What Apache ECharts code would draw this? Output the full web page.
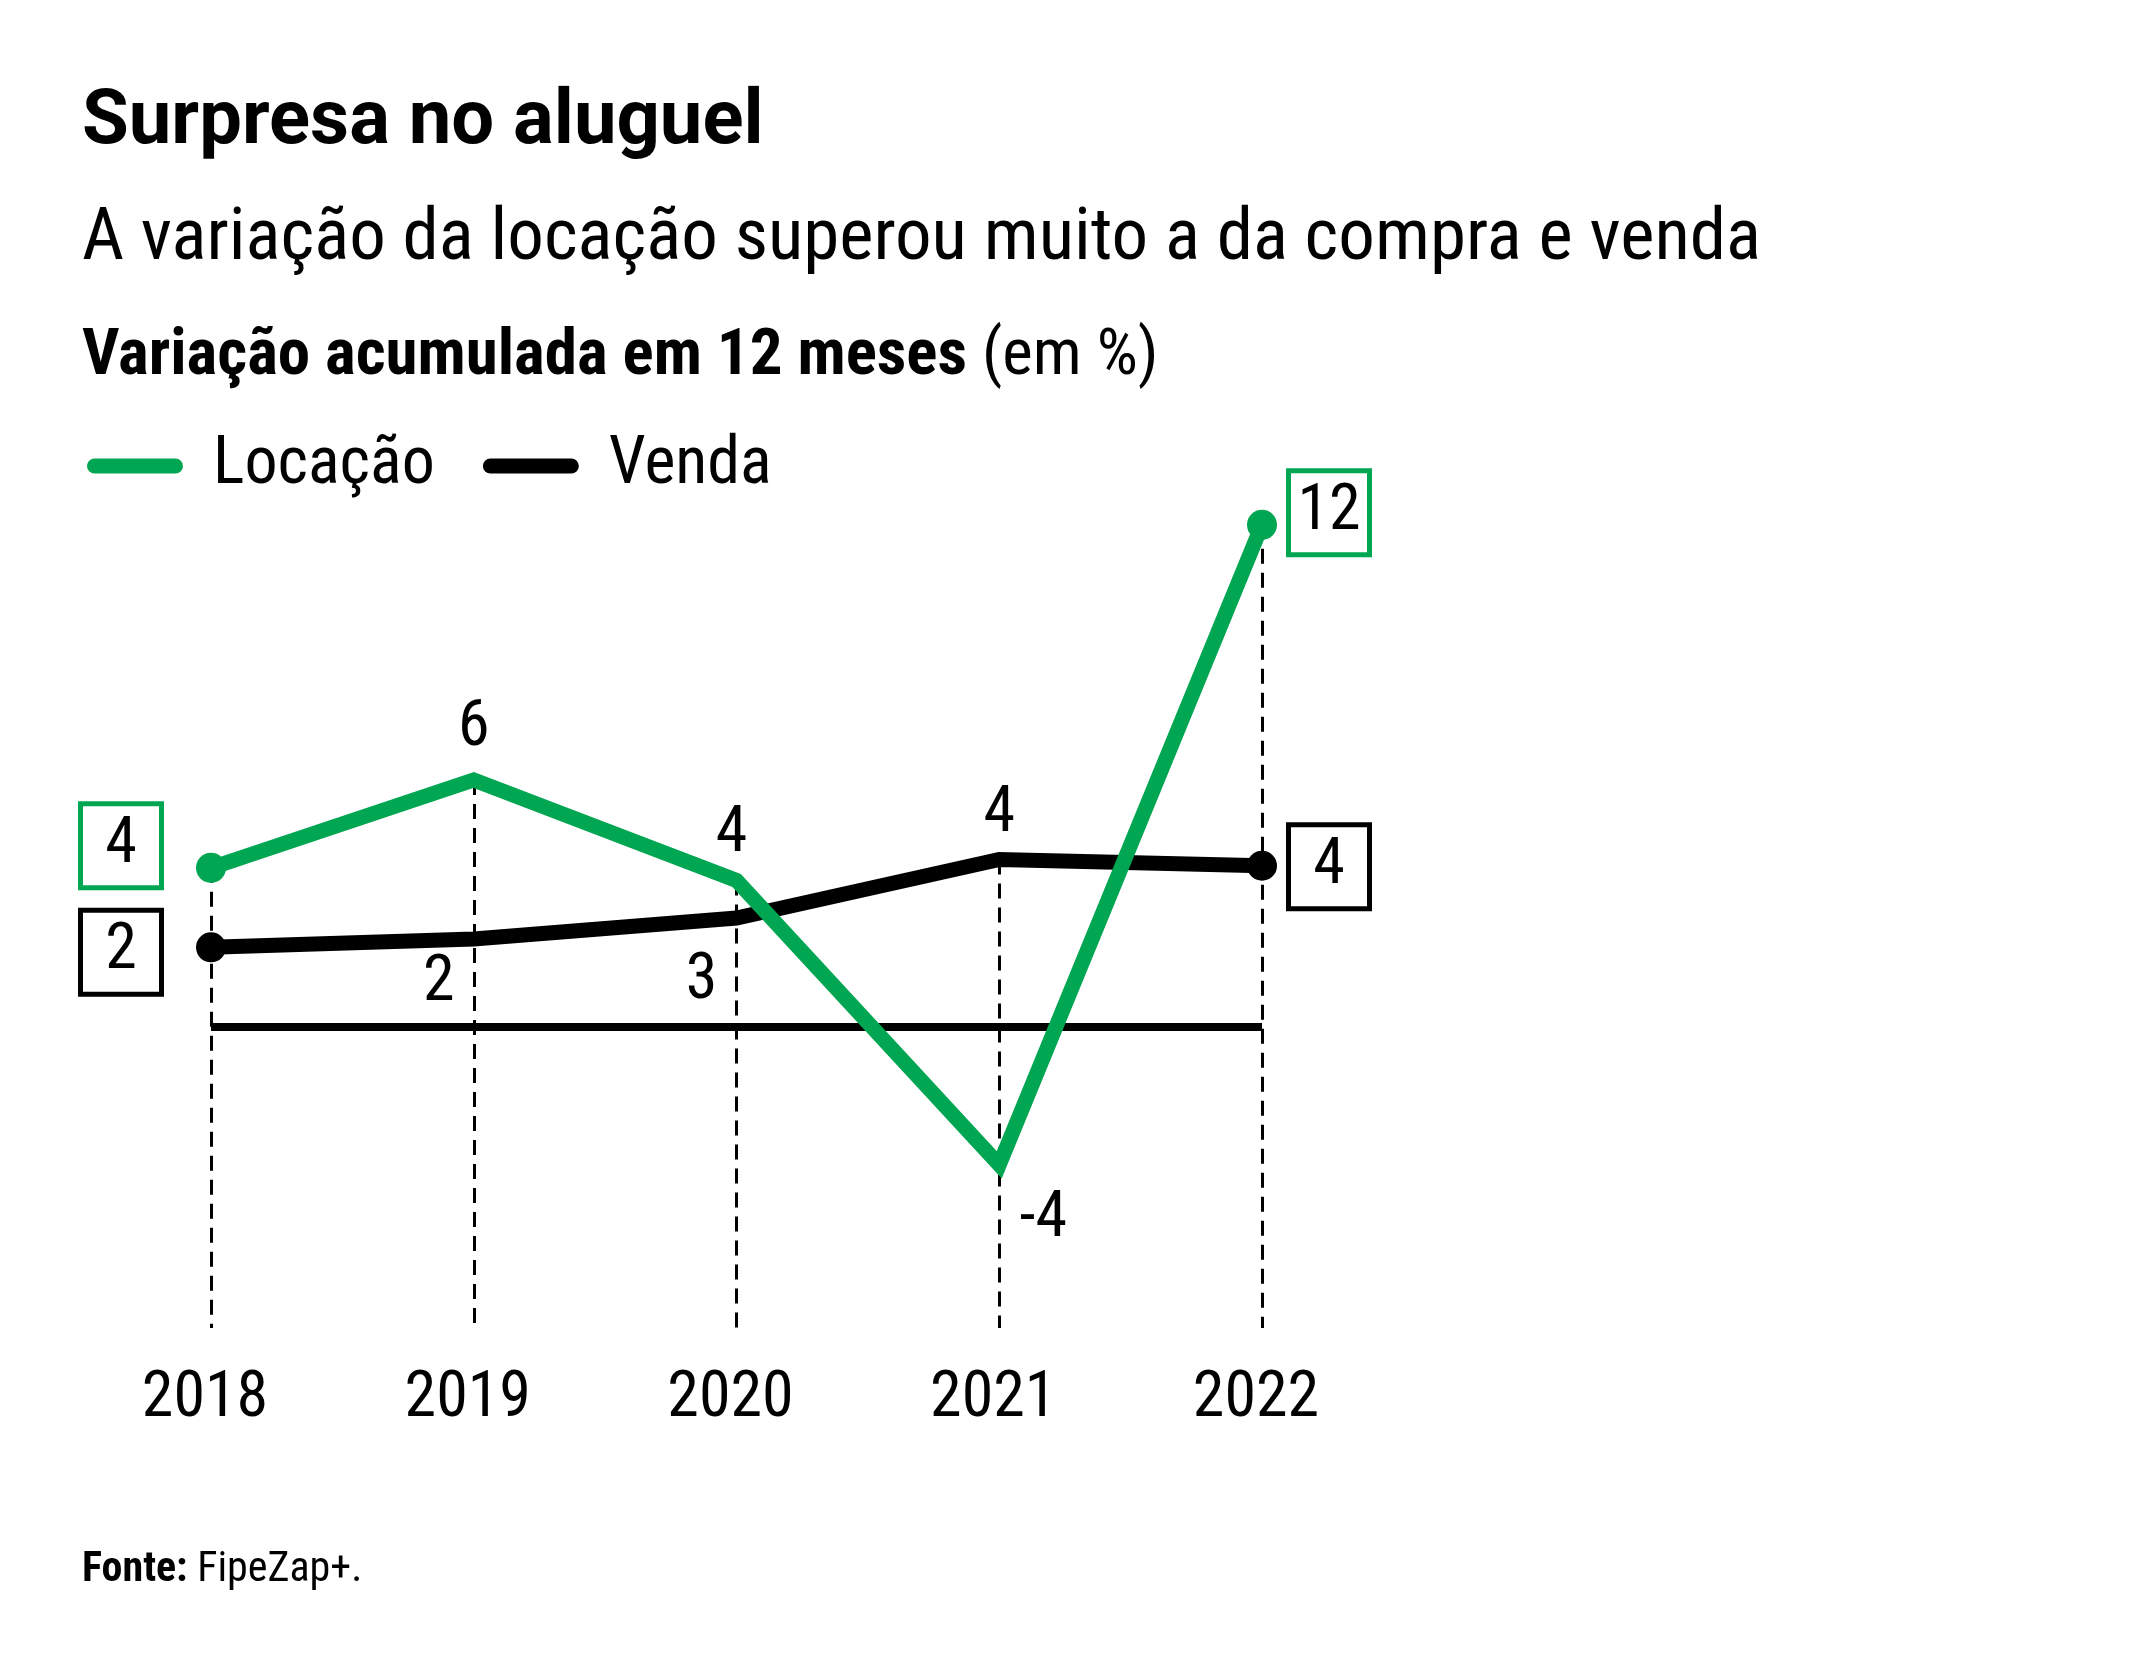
<!DOCTYPE html>
<html><head><meta charset="utf-8">
<script src="https://cdn.jsdelivr.net/npm/echarts@6/dist/echarts.min.js"></script>
<style>html,body{margin:0;padding:0;background:#fff}#chart{width:2133px;height:1671px}</style>
</head><body><div id="chart"></div>
<script>
// ---- data ----
const years = ['2018', '2019', '2020', '2021', '2022'];
const locacao = [3.8, 5.9, 3.5, -3.3, 12.0];
const venda = [1.9, 2.1, 2.6, 4.0, 3.85];
const locacaoLabels = ['4', '6', '4', '-4', '12'];
const vendaLabels = ['2', '2', '3', '4', '4'];

// ---- style ----
const NARROW = "'Roboto Condensed', 'DejaVu Sans Condensed', sans-serif";
const GREEN = '#00a651';
const BLACK = '#000000';
const Y_MIN = -7.2, Y_MAX = 13;

function boxLabel(color, offset, text) {
  return { show: true, position: 'inside', offset, formatter: () => text,
    color: '#000', fontFamily: NARROW, fontSize: 64, width: 76, height: 79, lineHeight: 79,
    align: 'center', verticalAlign: 'middle', backgroundColor: '#fff',
    borderColor: color, borderWidth: 5 };
}
function plainLabel(offset, text) {
  return { show: true, position: 'inside', offset, formatter: () => text,
    color: '#000', fontFamily: NARROW, fontSize: 64, lineHeight: 64,
    align: 'center', verticalAlign: 'middle' };
}
const locLabelOffsets = [[-90, -22], [0, -51], [-5, -45], [44, 55], [67, -12]];
const venLabelOffsets = [[-90, 5], [-35, 45], [-35, 64], [0, -44], [67, 1]];
const last = years.length - 1;

function buildData(values, labels, offsets, color) {
  return values.map((v, i) => ({
    value: v,
    symbolSize: (i === 0 || i === last) ? 30 : 1,
    label: (i === 0 || i === last) ? boxLabel(color, offsets[i], labels[i]) : plainLabel(offsets[i], labels[i])
  }));
}

const dashData = years.map((y, i) => [
  { coord: [i, Math.max(locacao[i], venda[i])], lineStyle: { color: BLACK, width: 3, type: [15, 9] } },
  { coord: [i, Y_MIN] }
]);

const legendIcon = 'path://M7.5,0 H88.5 A7.5,7.5 0 0 1 88.5,15 H7.5 A7.5,7.5 0 0 1 7.5,0 Z';

const option = {
  backgroundColor: '#fff',
  animation: false,
  grid: { left: 211, right: 871, top: 483, height: 845 },
  xAxis: {
    type: 'category', data: years, boundaryGap: false,
    axisLine: { show: false }, axisTick: { show: false }, splitLine: { show: false },
    axisLabel: { color: '#000', fontFamily: NARROW, fontSize: 64, lineHeight: 64, margin: 40, padding: [0, 12, 0, 0] }
  },
  yAxis: { type: 'value', min: Y_MIN, max: Y_MAX, show: false, splitLine: { show: false } },
  legend: {
    data: ['Locação', 'Venda'], left: 82, top: 428, icon: legendIcon,
    itemWidth: 96, itemHeight: 15, itemGap: 48,
    textStyle: { color: '#000', fontFamily: NARROW, fontSize: 66, lineHeight: 66, padding: [0, 0, 0, 25] }
  },
  graphic: [
    { type: 'text', x: 82, y: 124, style: { text: 'Surpresa no aluguel', fill: '#000',
      font: "700 76px Roboto, sans-serif", verticalAlign: 'middle' } },
    { type: 'text', x: 82, y: 241, style: { text: 'A variação da locação superou muito a da compra e venda', fill: '#000',
      font: "400 73px " + NARROW, verticalAlign: 'middle' } },
    { type: 'text', x: 82, y: 358, style: { text: '{b|Variação acumulada em 12 meses} (em %)', fill: '#000',
      font: "400 65px " + NARROW, verticalAlign: 'middle',
      rich: { b: { fontFamily: NARROW, fontWeight: 700, fontSize: 65 } } } },
    { type: 'text', x: 82, y: 1570, style: { text: '{b|Fonte:} FipeZap+.', fill: '#000',
      font: "400 42px " + NARROW, verticalAlign: 'middle',
      rich: { b: { fontFamily: NARROW, fontWeight: 700, fontSize: 42 } } } }
  ],
  series: [
    { name: 'guides', type: 'line', data: [], z: 1, silent: true,
      markLine: { silent: true, symbol: 'none', z: 1, label: { show: false },
        data: [
          ...dashData,
          { yAxis: 0, lineStyle: { color: BLACK, width: 8, type: 'solid' } }
        ] } },
    { name: 'Venda', type: 'line', z: 3, symbol: 'circle', color: BLACK,
      data: buildData(venda, vendaLabels, venLabelOffsets, BLACK),
      lineStyle: { color: BLACK, width: 15, join: 'miter', miterLimit: 10 },
      itemStyle: { color: BLACK } },
    { name: 'Locação', type: 'line', z: 4, symbol: 'circle', color: GREEN,
      data: buildData(locacao, locacaoLabels, locLabelOffsets, GREEN),
      lineStyle: { color: GREEN, width: 15, join: 'miter', miterLimit: 10 },
      itemStyle: { color: GREEN } }
  ]
};
const chart = echarts.init(document.getElementById('chart'), null, { renderer: 'canvas' });
chart.setOption(option);
</script></body></html>
